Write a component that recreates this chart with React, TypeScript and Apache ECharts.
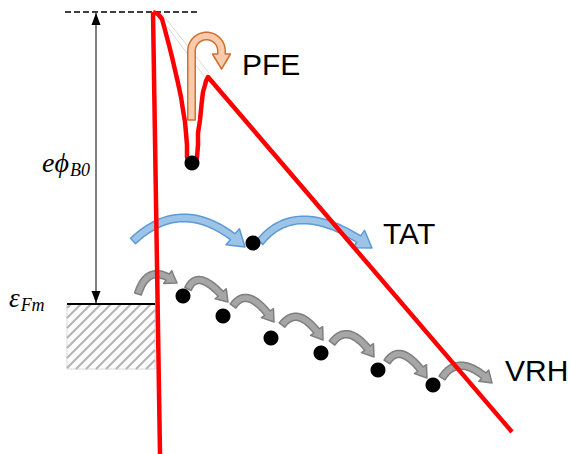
import React, { useEffect, useRef } from "react";
import * as echarts from "echarts";

const W = 570;
const H = 454;

// ---- Diagram data (diagram units = pixels, y grows downward) ----
const schottkyWall: number[][] = [[153, 12], [160, 454]];
const barrierProfile: number[][] = [
  [153, 12], [158, 14], [162, 19], [165, 30], [169, 45], [172, 57], [175, 70], [178, 83],
  [181, 97], [183, 110], [185, 122], [186, 133], [187, 145], [187, 157], [189, 164],
  [192, 167], [195, 165], [197, 157], [198, 145], [198, 133], [200, 120], [201, 110],
  [202, 100], [203, 92], [205, 85], [206, 81], [208, 77], [512, 432],
];
const imageForceGuideA: number[][] = [[160, 17], [207, 80]];
const imageForceGuideB: number[][] = [[163, 15], [209, 73]];
const barrierTop: number[][] = [[65, 12], [200, 12]];
const fermiLevel: number[][] = [[67, 304], [155, 304]];
const barrierHeightArrow: number[][] = [[96, 13], [96, 303]];
const metalBlock: number[] = [67, 304, 155, 369];
const trapWell: number[][] = [[192, 163]];
const tatTraps: number[][] = [[253, 243]];
const vrhSites: number[][] = [
  [183, 296], [223, 316], [271, 338], [321, 353], [378, 370], [433, 385],
];
// quadratic curves: start, control, tip
const tatArrows: number[][][] = [
  [[133, 241], [185, 192], [245, 247]],
  [[260, 242], [298, 195], [372, 248]],
];
const vrhArrows: number[][][] = [
  [[138, 294], [148, 261], [177, 283]],
  [[188, 289], [198, 266], [228, 302]],
  [[233, 306], [248, 284], [274, 322]],
  [[282, 325], [299, 303], [323, 340]],
  [[332, 343], [349, 320], [374, 357]],
  [[387, 362], [401, 340], [427, 378]],
  [[442, 378], [459, 351], [492, 383]],
];
const pfeHookBase: number[] = [191.5, 120];
const pfeHookCenter: number[] = [206.5, 51];
const pfeHookRadius = 15;
const pfeHookTip: number[] = [221.5, 69];

const processLabels: string[] = ["PFE", "TAT", "VRH"];

// ---- geometry helpers ----
function quadSamples(p0: number[], p1: number[], p2: number[], n = 40): number[][] {
  const out: number[][] = [];
  for (let i = 0; i <= n; i++) {
    const t = i / n;
    const a = (1 - t) * (1 - t), b = 2 * (1 - t) * t, c = t * t;
    out.push([a * p0[0] + b * p1[0] + c * p2[0], a * p0[1] + b * p1[1] + c * p2[1]]);
  }
  return out;
}

function blockArrow(pts: number[][], shaftW: number, headW: number, headL: number): number[][] {
  const cum: number[] = [0];
  for (let i = 1; i < pts.length; i++) {
    cum.push(cum[i - 1] + Math.hypot(pts[i][0] - pts[i - 1][0], pts[i][1] - pts[i - 1][1]));
  }
  const L = cum[cum.length - 1];
  const s = Math.max(0, L - headL);
  const shaft: number[][] = [];
  let base = pts[0];
  for (let i = 0; i < pts.length; i++) {
    if (cum[i] < s) shaft.push(pts[i]);
    else {
      const t = (s - cum[i - 1]) / (cum[i] - cum[i - 1] || 1);
      base = [pts[i - 1][0] + t * (pts[i][0] - pts[i - 1][0]), pts[i - 1][1] + t * (pts[i][1] - pts[i - 1][1])];
      shaft.push(base);
      break;
    }
  }
  const tip = pts[pts.length - 1];
  const left: number[][] = [];
  const right: number[][] = [];
  for (let i = 0; i < shaft.length; i++) {
    const a = shaft[Math.max(0, i - 1)];
    const b = shaft[Math.min(shaft.length - 1, i + 1)];
    let dx = b[0] - a[0], dy = b[1] - a[1];
    const d = Math.hypot(dx, dy) || 1;
    dx /= d; dy /= d;
    const nx = -dy, ny = dx;
    left.push([shaft[i][0] + nx * shaftW / 2, shaft[i][1] + ny * shaftW / 2]);
    right.push([shaft[i][0] - nx * shaftW / 2, shaft[i][1] - ny * shaftW / 2]);
  }
  let hx = tip[0] - base[0], hy = tip[1] - base[1];
  const hd = Math.hypot(hx, hy) || 1;
  hx /= hd; hy /= hd;
  const hnx = -hy, hny = hx;
  const hl = [base[0] + hnx * headW / 2, base[1] + hny * headW / 2];
  const hr = [base[0] - hnx * headW / 2, base[1] - hny * headW / 2];
  return [...left, hl, tip, hr, ...right.reverse()];
}

function hookSamples(): number[][] {
  const pts: number[][] = [];
  pts.push([pfeHookBase[0], pfeHookBase[1]]);
  pts.push([pfeHookBase[0], pfeHookCenter[1] + 5]);
  for (let i = 0; i <= 30; i++) {
    const th = Math.PI - (Math.PI * i) / 30;
    pts.push([pfeHookCenter[0] + pfeHookRadius * Math.cos(th), pfeHookCenter[1] - pfeHookRadius * Math.sin(th)]);
  }
  pts.push([pfeHookTip[0], pfeHookCenter[1] + 1]);
  pts.push([pfeHookTip[0], pfeHookTip[1]]);
  return pts;
}

function hatchSegments(): number[][][] {
  const [x0, y0, x1, y1] = metalBlock;
  const segs: number[][][] = [];
  const step = 10;
  for (let c = x0 + y0 + 4; c < x1 + y1; c += step) {
    const pts: number[][] = [];
    const cand = [
      [x0, c - x0], [x1, c - x1], [c - y0, y0], [c - y1, y1],
    ];
    for (const p of cand) {
      if (p[0] >= x0 - 0.01 && p[0] <= x1 + 0.01 && p[1] >= y0 - 0.01 && p[1] <= y1 + 0.01) pts.push(p);
    }
    if (pts.length >= 2) {
      pts.sort((a, b) => a[0] - b[0]);
      segs.push([pts[0], pts[pts.length - 1]]);
    }
  }
  return segs;
}

function lineSeries(data: number[][], color: string, width: number, z: number, type: any = "solid") {
  return {
    type: "line",
    data,
    symbol: "none",
    silent: true,
    z,
    lineStyle: { color, width, type, cap: "butt", join: "round" },
  };
}

export default function App() {
  const ref = useRef<HTMLDivElement>(null);
  useEffect(() => {
    document.body.style.margin = "0";
    if (!ref.current) return;
    const chart = echarts.init(ref.current, undefined, { renderer: "svg" });

    const toPx = (api: any, p: number[]) => api.coord(p);

    const arrowSeries = (name: string, shapes: () => number[][][], fill: string, stroke: string, z: number) => ({
      type: "custom",
      name,
      silent: true,
      z,
      data: shapes().map((_, i) => [i, 0]),
      renderItem: (params: any, api: any) => {
        const poly = shapes()[params.dataIndex].map((p) => toPx(api, p));
        return {
          type: "polygon",
          shape: { points: poly },
          style: { fill, stroke, lineWidth: 1.5, lineJoin: "round" },
        };
      },
    });

    const tatShapes = () => tatArrows.map((a) => blockArrow(quadSamples(a[0], a[1], a[2]), 7.5, 21, 16));
    const vrhShapes = () => vrhArrows.map((a) => blockArrow(quadSamples(a[0], a[1], a[2]), 7, 15, 11));
    const pfeShapes = () => [blockArrow(hookSamples(), 7.5, 18, 15)];

    const option: any = {
      animation: false,
      grid: { left: 0, right: 0, top: 0, bottom: 0, containLabel: false },
      xAxis: { type: "value", min: 0, max: W, show: false },
      yAxis: { type: "value", min: 0, max: H, inverse: true, show: false },
      series: [
        {
          type: "custom",
          silent: true,
          z: 1,
          data: [[0, 0]],
          renderItem: (params: any, api: any) => {
            const [x0, y0, x1, y1] = metalBlock;
            const a = api.coord([x0, y0]);
            const b = api.coord([x1, y1]);
            const children: any[] = [
              {
                type: "rect",
                shape: { x: a[0], y: a[1], width: b[0] - a[0], height: b[1] - a[1] },
                style: { fill: "#ffffff", stroke: "#d9d9d9", lineWidth: 1 },
              },
            ];
            for (const s of hatchSegments()) {
              const p = api.coord(s[0]);
              const q = api.coord(s[1]);
              children.push({
                type: "line",
                shape: { x1: p[0], y1: p[1], x2: q[0], y2: q[1] },
                style: { stroke: "#b4b4b4", lineWidth: 2.2 },
              });
            }
            return { type: "group", children };
          },
        },
        lineSeries(barrierTop, "#000000", 1.6, 2, [6, 3]),
        lineSeries(fermiLevel, "#000000", 2, 3),
        lineSeries(barrierHeightArrow, "#000000", 1, 3),
        {
          type: "custom",
          silent: true,
          z: 3,
          data: [[0, 0]],
          renderItem: (params: any, api: any) => {
            const t = api.coord(barrierHeightArrow[0]);
            const b = api.coord(barrierHeightArrow[1]);
            return {
              type: "group",
              children: [
                { type: "polygon", shape: { points: [[t[0], t[1]], [t[0] - 4.5, t[1] + 12], [t[0] + 4.5, t[1] + 12]] }, style: { fill: "#000" } },
                { type: "polygon", shape: { points: [[b[0], b[1]], [b[0] - 4.5, b[1] - 12], [b[0] + 4.5, b[1] - 12]] }, style: { fill: "#000" } },
              ],
            };
          },
        },
        lineSeries(imageForceGuideA, "#d0d0d0", 0.8, 4),
        lineSeries(imageForceGuideB, "#d0d0d0", 0.8, 4),
        arrowSeries("TAT", tatShapes, "#9DC3E6", "#5B9BD5", 5),
        arrowSeries("VRH", vrhShapes, "#A6A6A6", "#7F7F7F", 5),
        arrowSeries("PFE", pfeShapes, "#F8CBAD", "#D0702E", 5),
        lineSeries(schottkyWall, "#FF0000", 4.5, 8),
        lineSeries(barrierProfile, "#FF0000", 4.5, 8),
        {
          type: "scatter",
          silent: true,
          z: 10,
          symbol: "circle",
          symbolSize: 15,
          itemStyle: { color: "#000000", opacity: 1 },
          data: [...trapWell, ...tatTraps, ...vrhSites],
        },
      ],
      graphic: [
        {
          type: "text",
          x: 242,
          y: 64,
          style: { text: processLabels[0], font: '30px "Liberation Sans", Arial, sans-serif', fill: "#000", textVerticalAlign: "middle" },
        },
        {
          type: "text",
          x: 383,
          y: 233,
          style: { text: processLabels[1], font: '30px "Liberation Sans", Arial, sans-serif', fill: "#000", textVerticalAlign: "middle" },
        },
        {
          type: "text",
          x: 505,
          y: 370,
          style: { text: processLabels[2], font: '30px "Liberation Sans", Arial, sans-serif', fill: "#000", textVerticalAlign: "middle" },
        },
        {
          type: "text",
          x: 42,
          y: 161,
          style: {
            text: "{a|eϕ}{b|B0}",
            textVerticalAlign: "middle",
            rich: {
              a: { fontSize: 28, fontStyle: "italic", fontFamily: '"Liberation Serif", serif', lineHeight: 30, verticalAlign: "bottom" },
              b: { fontSize: 18, fontStyle: "italic", fontFamily: '"Liberation Serif", serif', lineHeight: 22, verticalAlign: "bottom", padding: [0, 0, -3, 1] },
            },
          },
        },
        {
          type: "text",
          x: 9,
          y: 297,
          style: {
            text: "{a|ε}{b|Fm}",
            textVerticalAlign: "middle",
            rich: {
              a: { fontSize: 27, fontStyle: "italic", fontFamily: '"Liberation Serif", serif', lineHeight: 28, verticalAlign: "bottom" },
              b: { fontSize: 18, fontStyle: "italic", fontFamily: '"Liberation Serif", serif', lineHeight: 22, verticalAlign: "bottom", padding: [0, 0, -3, 1] },
            },
          },
        },
      ],
    };
    chart.setOption(option);
    return () => chart.dispose();
  }, []);
  return <div ref={ref} style={{ width: W, height: H }} />;
}
